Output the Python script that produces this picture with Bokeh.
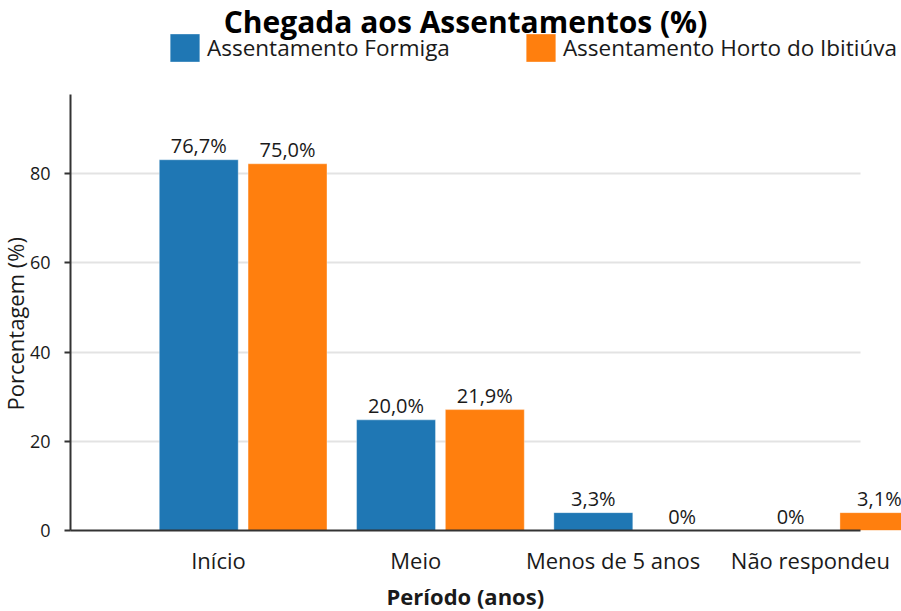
from bokeh.plotting import figure
from bokeh.models import (FixedTicker, Legend, LegendItem, Label, ColumnDataSource,
                          Range1d, Title)
from bokeh.core.properties import value
from bokeh.embed import file_html
from bokeh.resources import INLINE

# ---- data ----
categories = ["Início", "Meio", "Menos de 5 anos", "Não respondeu"]
series_names = ["Assentamento Formiga", "Assentamento Horto do Ibitiúva"]
formiga_bar = [83.1, 24.8, 4.0, 0.0]      # drawn bar heights
horto_bar = [82.2, 27.1, 0.0, 4.0]
formiga_pct = [76.7, 20.0, 3.3, 0.0]      # printed labels
horto_pct = [75.0, 21.9, 0.0, 3.1]
y_ticks = [0, 20, 40, 60, 80]

BLUE = "#1f77b4"
ORANGE = "#ff7f0e"
FONT = "Open Sans"
TXT = "#1a1a1a"


def fmt(v):
    if v == 0:
        return "0%"
    return ("%.1f" % v).replace(".", ",") + "%"


idx = list(range(len(categories)))
src_f = ColumnDataSource(dict(x=[i - 0.1 for i in idx], top=formiga_bar,
                              lab=[fmt(v) for v in formiga_pct]))
src_h = ColumnDataSource(dict(x=[i + 0.35 for i in idx], top=horto_bar,
                              lab=[fmt(v) for v in horto_pct]))

p = figure(width=901, height=611,
           x_range=Range1d(-0.75, 3.462), y_range=Range1d(0, 118.8),
           output_backend="svg", toolbar_location=None,
           min_border_left=0, min_border_right=0,
           min_border_top=0, min_border_bottom=0)
p.outline_line_color = None
p.background_fill_color = "white"

r1 = p.vbar(x="x", top="top", width=0.4, source=src_f, fill_color=BLUE,
            line_color="white", line_alpha=0.35, line_width=1)
r2 = p.vbar(x="x", top="top", width=0.4, source=src_h, fill_color=ORANGE,
            line_color="white", line_alpha=0.35, line_width=1)

for src in (src_f, src_h):
    p.text(x="x", y="top", text="lab", source=src, text_align="center",
           text_baseline="alphabetic", y_offset=-14,
           text_font=value(FONT), text_font_size="20px", text_color=TXT)

# x axis
xa = p.xaxis[0]
xa.ticker = FixedTicker(ticks=idx)
xa.major_label_overrides = {i: c for i, c in zip(idx, categories)}
xa.major_tick_out = 0
xa.major_tick_in = 0
xa.minor_tick_out = 0
xa.minor_tick_in = 0
xa.axis_line_width = 2
xa.axis_line_color = "#333333"
xa.bounds = (-0.75, 3.254)
xa.major_label_text_font = FONT
xa.major_label_text_font_size = "22px"
xa.major_label_text_color = TXT
xa.major_label_standoff = 14

# y axis
ya = p.yaxis[0]
ya.ticker = FixedTicker(ticks=y_ticks)
ya.bounds = (0, 97.75)
ya.major_tick_out = 6
ya.major_tick_in = 0
ya.minor_tick_out = 0
ya.minor_tick_in = 0
ya.axis_line_width = 2
ya.axis_line_color = "#333333"
ya.major_tick_line_color = "#333333"
ya.major_tick_line_width = 2
ya.major_label_text_font = FONT
ya.major_label_text_font_size = "18px"
ya.major_label_text_color = TXT
ya.major_label_standoff = 14

# axis titles as side-panel titles (exact placement along the axis)
ylab = Title(text="Porcentagem (%)", align="left", offset=120, standoff=-6,
             text_font=FONT, text_font_size="22px", text_font_style="normal",
             text_color=TXT)
p.add_layout(ylab, "left")
xlab = Title(text="Período (anos)", align="left", offset=316, standoff=2,
             text_font=FONT, text_font_size="22px", text_font_style="bold",
             text_color=TXT)
p.add_layout(xlab, "below")

p.xgrid.visible = False
p.ygrid.ticker = FixedTicker(ticks=[t for t in y_ticks if t > 0])
p.ygrid.grid_line_color = "#e3e3e3"
p.ygrid.grid_line_width = 2
try:
    p.ygrid.cross_bounds = (-0.75, 3.254)
except Exception:
    pass

legend = Legend(items=[LegendItem(label=series_names[0], renderers=[r1]),
                       LegendItem(label=series_names[1], renderers=[r2])],
                orientation="horizontal", location=(96, 465),
                glyph_width=37, glyph_height=35, label_standoff=4, spacing=72,
                padding=0, margin=0, border_line_color=None,
                background_fill_alpha=0,
                label_text_font=FONT, label_text_font_size="22.5px",
                label_text_color=TXT)
p.add_layout(legend)

title = Label(x=395, y=509, x_units="screen", y_units="screen",
              text="Chegada aos Assentamentos (%)", text_align="center",
              text_baseline="alphabetic", text_font=FONT,
              text_font_style="bold", text_font_size="30px", text_color="black")
p.add_layout(title)

open("out.html", "w").write(file_html(p, INLINE))
